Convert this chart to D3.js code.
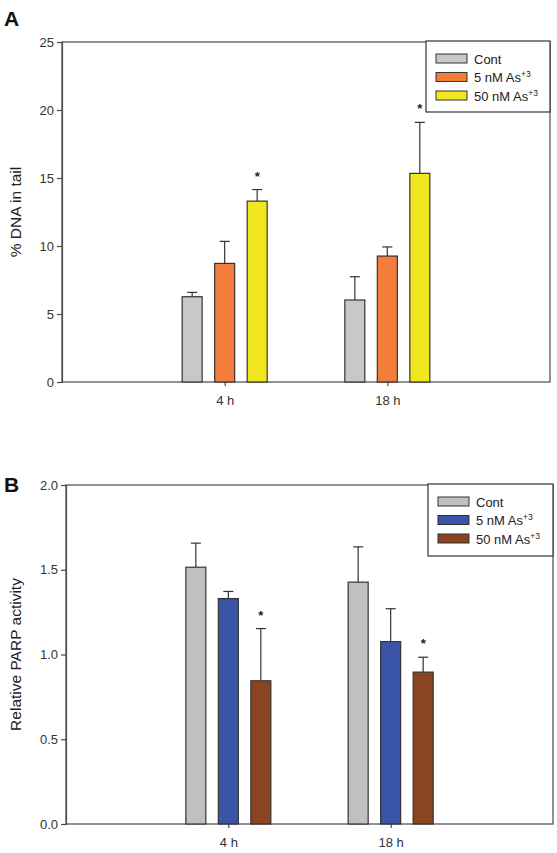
<!DOCTYPE html>
<html>
<head>
<meta charset="utf-8">
<script src="https://cdn.jsdelivr.net/npm/d3@7"></script>
<style>
html,body{margin:0;padding:0;background:#fff;}
svg{display:block;font-family:"Liberation Sans",Arial,sans-serif;}
</style>
</head>
<body>
<svg id="chart" width="557" height="853"></svg>
<script>
// ---------- data ----------
const categories = ["4 h", "18 h"];
const seriesNames = ["Cont", "5 nM As", "50 nM As"];
const seriesSup = ["", "+3", "+3"];

// Panel A: % DNA in tail
const dnaCont = [6.27, 6.03];
const dnaContErr = [0.32, 1.71];
const dna5 = [8.72, 9.26];
const dna5Err = [1.62, 0.67];
const dna50 = [13.3, 15.34];
const dna50Err = [0.85, 3.75];
const dnaSig = [[false, false, true], [false, false, true]];
const dnaTicks = [0, 5, 10, 15, 20, 25];

// Panel B: Relative PARP activity
const parpCont = [1.515, 1.427];
const parpContErr = [0.142, 0.208];
const parp5 = [1.33, 1.076];
const parp5Err = [0.042, 0.194];
const parp50 = [0.845, 0.896];
const parp50Err = [0.308, 0.088];
const parpSig = [[false, false, true], [false, false, true]];
const parpTicks = [0, 0.5, 1.0, 1.5, 2.0];

const colorsA = ["#c8c8c8", "#f47d3c", "#f2e61e"];
const colorsB = ["#c0c0c0", "#3a54a8", "#8a4420"];

const svg = d3.select("#chart");

function drawPanel(o) {
  const g = svg.append("g");
  const x = d3.scalePoint().domain(categories).range([o.left, o.right]).padding(1);
  const y = d3.scaleLinear().domain(o.domain).range([o.bottom, o.top]);
  const bw = 20, step = 32.5;

  // frame
  g.append("rect").attr("x", o.left).attr("y", o.top)
    .attr("width", o.right - o.left).attr("height", o.bottom - o.top)
    .attr("fill", "none").attr("stroke", "#4a4a4a").attr("stroke-width", 1.2);

  // y axis
  const ya = g.append("g").attr("transform", `translate(${o.left},0)`)
    .call(d3.axisLeft(y).tickValues(o.ticks).tickSize(5).tickFormat(o.fmt));
  ya.select(".domain").attr("stroke", "#4a4a4a").attr("stroke-width", 1.2);
  ya.selectAll(".tick line").attr("stroke", "#4a4a4a").attr("stroke-width", 1.2);
  ya.selectAll(".tick text").attr("font-size", 13).attr("fill", "#333")
    .attr("font-family", "Liberation Sans, Arial, sans-serif").attr("x", -8);

  // x axis
  const xa = g.append("g").attr("transform", `translate(0,${o.bottom})`)
    .call(d3.axisBottom(x).tickSize(4).tickSizeOuter(0));
  xa.select(".domain").remove();
  xa.selectAll(".tick line").attr("stroke", "#4a4a4a").attr("stroke-width", 1.2);
  xa.selectAll(".tick text").attr("font-size", 13).attr("fill", "#333")
    .attr("font-family", "Liberation Sans, Arial, sans-serif").attr("y", 14);

  // bars
  const rows = [];
  categories.forEach((c, ci) => {
    o.means.forEach((m, si) => {
      rows.push({c, ci, si, v: m[ci], e: o.errs[si][ci], sig: o.sig[ci][si]});
    });
  });
  const cx = d => x(d.c) + (d.si - 1) * step;
  // error bars (upper only)
  g.selectAll(".err").data(rows).join("line")
    .attr("x1", cx).attr("x2", cx)
    .attr("y1", d => y(d.v)).attr("y2", d => y(d.v + d.e))
    .attr("stroke", "#333").attr("stroke-width", 1.2);
  g.selectAll(".cap").data(rows).join("line")
    .attr("x1", d => cx(d) - 5).attr("x2", d => cx(d) + 5)
    .attr("y1", d => y(d.v + d.e)).attr("y2", d => y(d.v + d.e))
    .attr("stroke", "#333").attr("stroke-width", 1.2);
  g.selectAll(".bar").data(rows).join("rect")
    .attr("x", d => cx(d) - bw / 2).attr("width", bw)
    .attr("y", d => y(d.v)).attr("height", d => y(0) - y(d.v))
    .attr("fill", d => o.colors[d.si]).attr("stroke", "#333").attr("stroke-width", 1.2);
  g.selectAll(".star").data(rows.filter(d => d.sig)).join("text")
    .attr("x", cx).attr("y", d => y(d.v + d.e) - 9)
    .attr("text-anchor", "middle").attr("font-size", 13).attr("font-weight", "bold")
    .attr("fill", "#222").text("*");

  // y label
  g.append("text")
    .attr("transform", `translate(${o.labelX},${(o.top + o.bottom) / 2}) rotate(-90)`)
    .attr("text-anchor", "middle").attr("font-size", 15.5).attr("fill", "#222")
    .text(o.ylabel);

  // panel letter
  g.append("text").attr("x", o.letterX).attr("y", o.letterY)
    .attr("font-size", 21).attr("font-weight", "bold").attr("fill", "#111").text(o.letter);

  // legend
  const lg = g.append("g");
  lg.append("rect").attr("x", o.legX).attr("y", o.top - 1)
    .attr("width", o.right - o.legX).attr("height", o.legH)
    .attr("fill", "#fff").attr("stroke", "#333").attr("stroke-width", 1.2);
  seriesNames.forEach((s, i) => {
    const ry = o.top + 12 + i * 18.5;
    lg.append("rect").attr("x", o.legX + 10).attr("y", ry)
      .attr("width", 31).attr("height", 9)
      .attr("fill", o.colors[i]).attr("stroke", "#333").attr("stroke-width", 1);
    const t = lg.append("text").attr("x", o.legX + 48).attr("y", ry + 9.5)
      .attr("font-size", 13).attr("fill", "#222").text(s);
    if (seriesSup[i]) {
      t.append("tspan").attr("dy", -5).attr("font-size", 8.5).text(seriesSup[i]);
    }
  });
}

drawPanel({
  left: 62, right: 550, top: 42, bottom: 382,
  domain: [0, 25], ticks: dnaTicks, fmt: d3.format("d"),
  means: [dnaCont, dna5, dna50], errs: [dnaContErr, dna5Err, dna50Err],
  sig: dnaSig, colors: colorsA, ylabel: "% DNA in tail",
  labelX: 21, letter: "A", letterX: 4, letterY: 26,
  legX: 426, legH: 71
});

drawPanel({
  left: 66, right: 553, top: 485, bottom: 824,
  domain: [0, 2], ticks: parpTicks, fmt: d3.format(".1f"),
  means: [parpCont, parp5, parp50], errs: [parpContErr, parp5Err, parp50Err],
  sig: parpSig, colors: colorsB, ylabel: "Relative PARP activity",
  labelX: 21, letter: "B", letterX: 4, letterY: 492,
  legX: 428, legH: 72
});
</script>
</body>
</html>
